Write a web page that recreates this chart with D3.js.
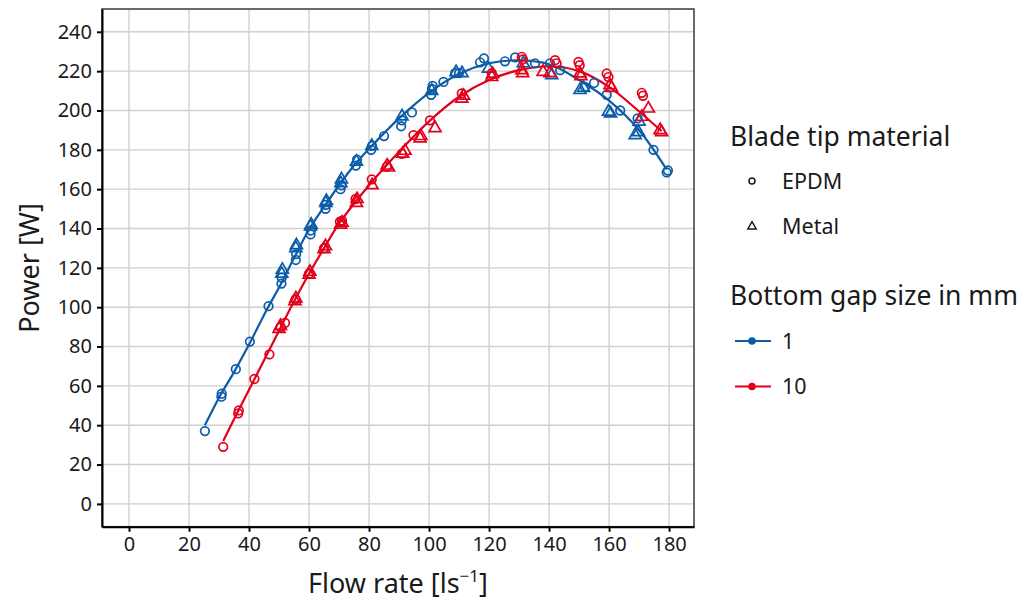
<!DOCTYPE html>
<meta charset="utf-8">
<script src="https://d3js.org/d3.v7.min.js"></script>
<style>
  body { margin: 0; background: #fff; }
  text { font-family: "Noto Sans", "Open Sans", sans-serif; fill: #1a1a1a; }
</style>
<body>
<div id="chart"></div>
<script>

// flow rate [l/s] and power [W]
// gap 1 mm, EPDM tips
var gap1Epdm = [[25.3,37],[30.8,54.5],[30.9,56],[35.6,68.5],[40.3,82.5],[46.5,100.5],[50.8,112],[50.9,115],
  [55.6,124],[55.7,127],[60.5,137],[60.6,139],[65.5,150],[65.6,152],[70.5,160],[70.8,162],[75.6,172],[76,175],
  [80.7,180],[81,182],[85,187],[90.7,192],[90.9,195],[94.3,199],[100.7,208],[101,211],[101.2,212.5],[104.8,214.5],
  [108.7,219],[110,219],[117,224.5],[118.3,226.5],[125.3,225],[128.7,227],[135.3,224],[140.3,224],[143.7,220.5],
  [152,212],[155,214],[159.2,208],[163.7,200],[169.5,196],[174.8,180],[179.2,168.5],[179.6,169.5]];
// gap 1 mm, metal tips
var gap1Metal = [[50.9,117],[51.1,119],[55.6,130],[55.8,131.5],[60.5,141],[60.7,142],[65.6,153],[65.8,154],
  [70.6,163],[70.8,165],[75.8,174],[80.9,182],[91,197],[100.9,210],[109,219.5],[111,219],[119.8,221.3],
  [131.4,224],[140.9,218],[150.3,210.4],[151.5,211.5],[159.8,199.4],[160.5,198.5],[168.7,187.5],[169.8,189],[170,194.3]];
// gap 10 mm, EPDM tips
var gap10Epdm = [[31.4,29],[36.4,46],[36.6,47.5],[41.8,63.5],[46.8,76],[50.5,90],[52,92],[55.5,104],[60,117],
  [65,130],[70.3,143.5],[71,144],[75.5,155],[80.9,165],[85.9,171.5],[90.9,178],[94.8,187.5],[100.3,195],
  [110.9,208.7],[120.9,219],[130.9,227.3],[131.3,226],[142,225.6],[142.5,224],[149.8,224.7],[150.2,223],
  [159.2,218.8],[159.8,217],[170.9,209],[171.3,207.5]];
// gap 10 mm, metal tips
var gap10Metal = [[50,89],[50.5,90.5],[55.3,103],[55.6,104.5],[60,116.5],[60.3,118],[65,129.5],[65.5,131],
  [70.5,142],[71,143],[75.8,153],[76,155],[81,162],[86,172],[86.5,171],[91.2,178],[92,179.5],[97,185.8],
  [97.3,187],[102,191],[110.9,206],[111.5,207.5],[120.9,217],[121.2,218.5],[130.9,220.5],[131.2,219],
  [138,219.6],[140.3,219],[150.3,218.8],[150.6,217.5],[160.3,212.9],[160.8,211.5],[170.9,196.8],[173.1,201],
  [177,190],[177.5,189]];

// fitted curves
var fit1 = [[25.3,40],[30,54],[35,67],[40,81],[46,99],[50,110],[55,125],[60,139.5],[65,151],[70,162],[75,172],
  [80,180.5],[90,196],[100,209],[110,218.5],[120,224],[130,225.5],[140,223.5],[150,215.5],[160,205],[170,190],[179.2,170]];
var fit10 = [[31.4,32],[35,43],[40,58],[45,73],[50,88],[55,103],[60,117],[65,130],[70,142.5],[80,162],[90,179],
  [100,194.5],[110,207],[120,215.5],[130,220.5],[140,222.5],[150,220],[160,212],[170,199.5],[177.5,189.5]];

var xTicks = [0,20,40,60,80,100,120,140,160,180];
var yTicks = [0,20,40,60,80,100,120,140,160,180,200,220,240];

var blue = "#0b5ca8", red = "#e2001a";

var W = 1028, H = 606;
var svg = d3.select("#chart").append("svg").attr("width", W).attr("height", H);

var x = d3.scaleLinear().domain([-9, 188.3]).range([102, 694]);
var y = d3.scaleLinear().domain([-11.6, 251.6]).range([526.7, 9]);

// grid
svg.append("g").selectAll("line").data(xTicks).enter().append("line")
  .attr("x1", d => x(d)).attr("x2", d => x(d)).attr("y1", 9).attr("y2", 526.7)
  .attr("stroke", "#d0d0d0").attr("stroke-width", 1.4);
svg.append("g").selectAll("line").data(yTicks).enter().append("line")
  .attr("y1", d => y(d)).attr("y2", d => y(d)).attr("x1", 102).attr("x2", 694)
  .attr("stroke", "#d0d0d0").attr("stroke-width", 1.4);

// panel border
svg.append("rect").attr("x", 102).attr("y", 9).attr("width", 592).attr("height", 517.7)
  .attr("fill", "none").attr("stroke", "#3a3a3a").attr("stroke-width", 1.5);

// axes
var xAxis = svg.append("g").attr("transform", "translate(0,526.7)")
  .call(d3.axisBottom(x).tickValues(xTicks).tickSize(5).tickSizeOuter(0).tickPadding(5));
var yAxis = svg.append("g").attr("transform", "translate(102,0)")
  .call(d3.axisLeft(y).tickValues(yTicks).tickSize(5).tickSizeOuter(0).tickPadding(5));
[xAxis, yAxis].forEach(function(a) {
  a.select(".domain").attr("stroke", "#000").attr("stroke-width", 2);
  a.selectAll(".tick line").attr("stroke", "#000").attr("stroke-width", 2);
  a.selectAll(".tick text").attr("font-family", "Noto Sans").attr("font-size", 20).attr("fill", "#1a1a1a");
});

// curves
var line = d3.line().x(d => x(d[0])).y(d => y(d[1])).curve(d3.curveCatmullRom);
svg.append("path").datum(fit1).attr("d", line).attr("fill", "none").attr("stroke", blue).attr("stroke-width", 2.2);
svg.append("path").datum(fit10).attr("d", line).attr("fill", "none").attr("stroke", red).attr("stroke-width", 2.2);

// points
var circ = d3.symbol().type(d3.symbolCircle).size(58);
var tri = d3.symbol().type(d3.symbolTriangle).size(62);
function pts(data, sym, col) {
  svg.append("g").selectAll("path").data(data).enter().append("path")
    .attr("d", sym)
    .attr("transform", d => "translate(" + x(d[0]) + "," + y(d[1]) + ")")
    .attr("fill", "none").attr("stroke", col).attr("stroke-width", 1.7);
}
pts(gap1Epdm, circ, blue);
pts(gap1Metal, tri, blue);
pts(gap10Epdm, circ, red);
pts(gap10Metal, tri, red);

// axis titles
svg.append("text").attr("x", 398).attr("y", 593).attr("text-anchor", "middle")
  .attr("font-size", 27)
  .call(t => {
    t.append("tspan").text("Flow rate [ls");
    t.append("tspan").attr("font-size", 17).attr("dy", -11).text("\u22121");
    t.append("tspan").attr("dy", 11).text("]");
  });
svg.append("text").attr("transform", "translate(39,268) rotate(-90)").attr("text-anchor", "middle")
  .attr("font-size", 27).text("Power [W]");

// legends
var lg = svg.append("g");
lg.append("text").attr("x", 730).attr("y", 146).attr("font-size", 26.5).text("Blade tip material");
var mats = ["EPDM", "Metal"];
var legSym = [d3.symbol().type(d3.symbolCircle).size(28), d3.symbol().type(d3.symbolTriangle).size(30)];
mats.forEach(function(m, i) {
  var yy = 181 + i * 45.5;
  lg.append("path").attr("d", legSym[i]).attr("transform", "translate(752," + yy + ")")
    .attr("fill", "none").attr("stroke", "#1a1a1a").attr("stroke-width", 1.5);
  lg.append("text").attr("x", 782).attr("y", yy + 7.5).attr("font-size", 21.5).text(m);
});
lg.append("text").attr("x", 730).attr("y", 305).attr("font-size", 26.5).text("Bottom gap size in mm");
var gaps = ["1", "10"], gapCols = [blue, red];
gaps.forEach(function(g, i) {
  var yy = 341 + i * 45.5;
  lg.append("line").attr("x1", 735).attr("x2", 771).attr("y1", yy).attr("y2", yy)
    .attr("stroke", gapCols[i]).attr("stroke-width", 2.2);
  lg.append("circle").attr("cx", 752).attr("cy", yy).attr("r", 3.8).attr("fill", gapCols[i]);
  lg.append("text").attr("x", 782).attr("y", yy + 7.5).attr("font-size", 21.5).text(g);
});

</script>
</body>
